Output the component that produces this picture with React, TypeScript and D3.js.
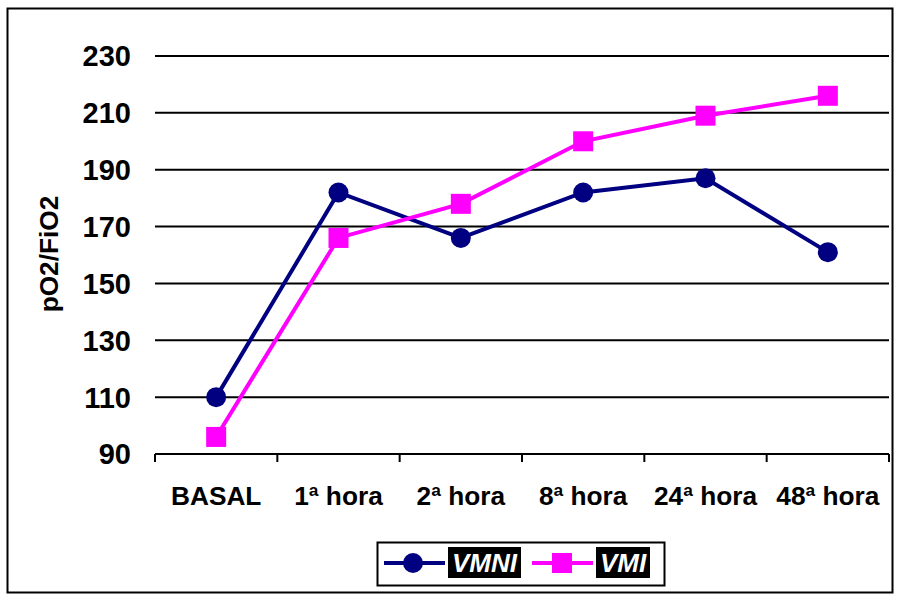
import * as d3 from 'd3'
import { type ReactElement } from 'react'

const categories = ['BASAL', '1ª hora', '2ª hora', '8ª hora', '24ª hora', '48ª hora']
const vmniValues = [110, 182, 166, 182, 187, 161]
const vmiValues = [96, 166, 178, 200, 209, 216]
const yTicks = [90, 110, 130, 150, 170, 190, 210, 230]

const width = 898
const height = 597
const plot = { left: 155, right: 889, top: 56, bottom: 454 }
const font = 'Arial, "Liberation Sans", sans-serif'
const navy = '#000080'
const magenta = '#FF00FF'

export default function App(): ReactElement {
  const xBand = d3.scaleBand<string>().domain(categories).range([plot.left, plot.right])
  const xCenter = (c: string) => (xBand(c) ?? 0) + xBand.bandwidth() / 2
  const y = d3.scaleLinear().domain([90, 230]).range([plot.bottom, plot.top])

  const line = d3
    .line<number>()
    .x((_, i) => xCenter(categories[i]!))
    .y((d) => y(d))

  const tickXs = d3.range(categories.length + 1).map((i) => plot.left + i * xBand.bandwidth())

  return (
    <svg
      width={width}
      height={height}
      style={{ position: 'absolute', left: 0, top: 0, background: '#fff' }}
    >
      <rect x={7.5} y={8.5} width={885} height={584} fill="#fff" stroke="#000" strokeWidth={2} />

      {/* grid + baseline */}
      {yTicks.map((t) => (
        <line key={t} x1={plot.left} x2={plot.right} y1={y(t)} y2={y(t)} stroke="#000" strokeWidth={2} />
      ))}
      {tickXs.map((tx) => (
        <line key={tx} x1={tx} x2={tx} y1={plot.bottom} y2={plot.bottom + 8} stroke="#000" strokeWidth={2} />
      ))}

      {/* y tick labels */}
      {yTicks.map((t) => (
        <text
          key={t}
          x={131}
          y={y(t)}
          dy="0.36em"
          textAnchor="end"
          fontFamily={font}
          fontWeight="bold"
          fontSize={29}
        >
          {t}
        </text>
      ))}

      {/* x labels */}
      {categories.map((c) => (
        <text
          key={c}
          transform={`translate(${xCenter(c)},505) scale(1.05,1)`}
          textAnchor="middle"
          fontFamily={font}
          fontWeight="bold"
          fontSize={25}
        >
          {c}
        </text>
      ))}

      <text
        transform={`translate(58,254) rotate(-90) scale(1.05,1)`}
        textAnchor="middle"
        fontFamily={font}
        fontWeight="bold"
        fontSize={25}
      >
        pO2/FiO2
      </text>

      {/* series */}
      <path d={line(vmniValues) ?? ''} fill="none" stroke={navy} strokeWidth={4} />
      <path d={line(vmiValues) ?? ''} fill="none" stroke={magenta} strokeWidth={4} />
      {vmniValues.map((v, i) => (
        <circle key={i} cx={xCenter(categories[i]!)} cy={y(v)} r={10} fill={navy} />
      ))}
      {vmiValues.map((v, i) => (
        <rect key={i} x={xCenter(categories[i]!) - 10} y={y(v) - 10} width={20} height={20} fill={magenta} />
      ))}

      {/* legend */}
      <rect x={377.5} y={542.5} width={287} height={43} fill="#fff" stroke="#000" strokeWidth={2} />
      <line x1={384} x2={445} y1={563} y2={563} stroke={navy} strokeWidth={4} />
      <circle cx={413} cy={563} r={10} fill={navy} />
      <rect x={448} y={547} width={73} height={31} fill="#000" />
      <text x={484.5} y={572} textAnchor="middle" fill="#fff" fontFamily={font} fontWeight="bold" fontStyle="italic" fontSize={26}>
        VMNI
      </text>
      <line x1={532} x2={593} y1={563} y2={563} stroke={magenta} strokeWidth={4} />
      <rect x={552} y={553} width={20} height={20} fill={magenta} />
      <rect x={596} y={547} width={54} height={31} fill="#000" />
      <text x={623} y={572} textAnchor="middle" fill="#fff" fontFamily={font} fontWeight="bold" fontStyle="italic" fontSize={26}>
        VMI
      </text>
    </svg>
  )
}
